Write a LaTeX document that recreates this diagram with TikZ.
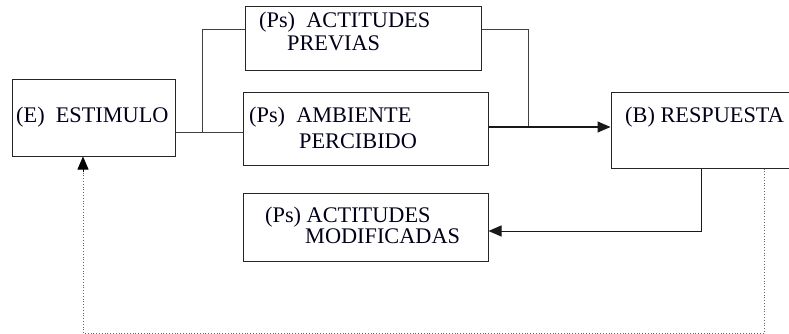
\documentclass[tikz,border=0pt]{standalone}
\usepackage{fontspec}
\setmainfont{Liberation Serif}
\usetikzlibrary{arrows.meta,calc}
\begin{document}
\begin{tikzpicture}[x=1pt,y=-1pt,
  box/.style={draw=black!85,line width=1pt,rectangle,inner sep=0pt},
  txt/.style={anchor=base west,inner sep=0pt,font=\fontsize{22.3}{26}\selectfont,text=black!90!blue},
  conn/.style={draw=black!75,line width=1pt},
  tip/.style={-{Triangle[length=13pt,width=11pt]}},
  fb/.style={draw=black!60,line width=0.8pt,dotted}]
\useasboundingbox (0,0) rectangle (789,334);
% boxes
\node[box,minimum width=163pt,minimum height=76pt] (est) at (93.5,118) {};
\node[box,minimum width=236pt,minimum height=64pt] (prev) at (363,39) {};
\node[box,minimum width=245pt,minimum height=72pt] (amb) at (365.5,129) {};
\node[box,minimum width=180pt,minimum height=75pt] (resp) at (701,130.5) {};
\node[box,minimum width=245pt,minimum height=68pt] (mod) at (365.5,227) {};
% texts
\node[txt] (t1) at (16,123) {(E)\hspace{0.5em}ESTIMULO};
\node[txt] (t2) at (259,28) {(Ps)\hspace{0.5em}ACTITUDES};
\node[txt] (t3) at (287,51) {PREVIAS};
\node[txt] (t4) at (249,123) {(Ps)\hspace{0.5em}AMBIENTE};
\node[txt] (t5) at (299,148) {PERCIBIDO};
\node[txt] (t6) at (625,123) {(B) RESPUESTA};
\node[txt] (t7) at (265,222) {(Ps) ACTITUDES};
\node[txt] (t8) at (305,243) {MODIFICADAS};
% connector coordinates
\coordinate (j1) at (202,132);
\coordinate (j2) at (528,127);
\coordinate (j3) at (701,231);
\coordinate (c1) at (764,333);
\coordinate (c2) at (83,333);
\coordinate (c4) at (83,172);
% connectors
\draw[conn] (est.east |- j1) -- (amb.west |- j1);
\draw[conn] (j1) -- (j1 |- 0,30) -- (prev.west |- 0,30);
\draw[conn] (prev.east |- 0,30) -- (j2 |- 0,30) -- (j2);
\draw[conn,draw=black!90,tip] (amb.east |- j2) -- (resp.west |- j2);
\draw[conn,draw=black!90,tip] (j3 |- resp.south) -- (j3) -- (mod.east |- j3);
\draw[fb] (c1 |- resp.south) -- (c1) -- (c2) -- (c4);
\draw[draw=black,line width=0.8pt,tip] (c4) -- (c2 |- est.south);
\end{tikzpicture}
\end{document}
